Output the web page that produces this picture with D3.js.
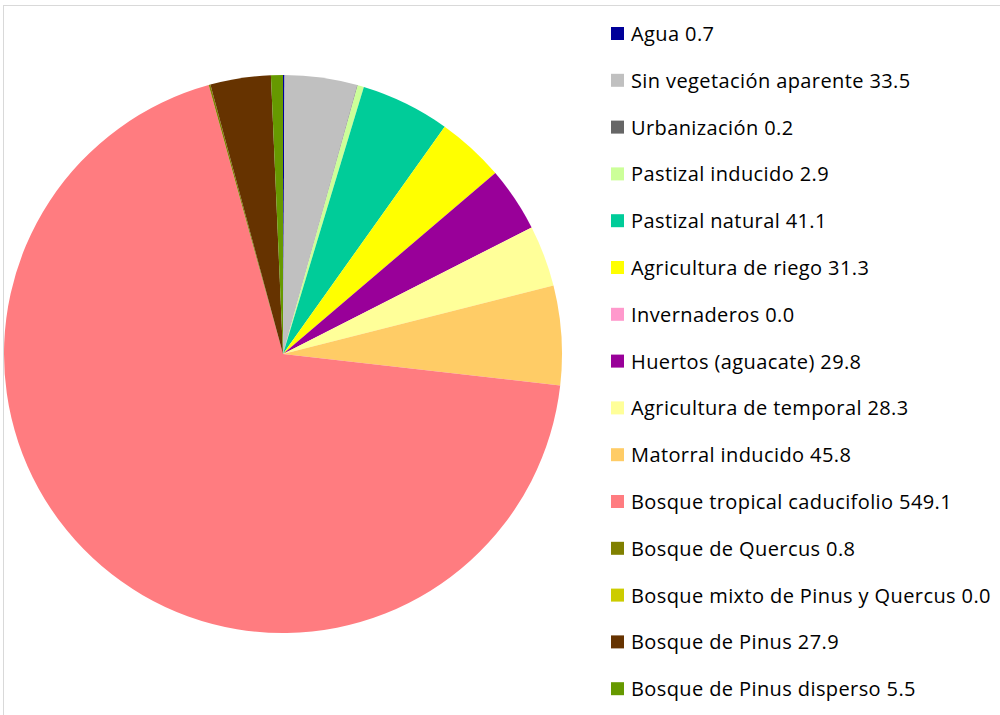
<!DOCTYPE html>
<html><head><meta charset="utf-8">
<script src="https://cdn.jsdelivr.net/npm/d3@7"></script>
<style>body{margin:0;background:#fff}svg{display:block}</style>
</head><body>
<script>
const categories = ["Agua","Sin vegetación aparente","Urbanización","Pastizal inducido","Pastizal natural","Agricultura de riego","Invernaderos","Huertos (aguacate)","Agricultura de temporal","Matorral inducido","Bosque tropical caducifolio","Bosque de Quercus","Bosque mixto de Pinus y Quercus","Bosque de Pinus","Bosque de Pinus disperso"];
const values = [0.7,33.5,0.2,2.9,41.1,31.3,0.0,29.8,28.3,45.8,549.1,0.8,0.0,27.9,5.5];
const labels = ["0.7","33.5","0.2","2.9","41.1","31.3","0.0","29.8","28.3","45.8","549.1","0.8","0.0","27.9","5.5"];
const colors = ["#000099","#C0C0C0","#666666","#CCFF99","#00CC99","#FFFF00","#FF99CC","#990099","#FFFF99","#FFCC66","#FF7C80","#808000","#CCCC00","#663300","#669900"];

const W=1000,H=715;
const svg=d3.select("body").append("svg").attr("width",W).attr("height",H);
svg.append("rect").attr("x",3.5).attr("y",5.5).attr("width",1000).attr("height",720).attr("fill","#fff").attr("stroke","#d9d9d9");

const cx=283, cy=354, r=279;
const data=categories.map((c,i)=>({name:c,value:values[i],label:labels[i],color:colors[i]}));
const pie=d3.pie().value(d=>d.value).sort(null);
const arc=d3.arc().innerRadius(0).outerRadius(r);
svg.append("g").attr("transform",`translate(${cx},${cy})`)
  .selectAll("path").data(pie(data)).join("path")
  .attr("d",arc).attr("fill",d=>d.data.color);

const y0=34, dy=46.8;
const lg=svg.append("g");
const row=lg.selectAll("g").data(data).join("g").attr("transform",(d,i)=>`translate(611,${y0+i*dy})`);
row.append("rect").attr("x",0).attr("y",-7).attr("width",13).attr("height",13).attr("fill",d=>d.color);
row.append("text").attr("x",20).attr("y",0).attr("dy","0.35em")
  .style("font-family","'Open Sans', sans-serif").style("font-size","20px").style("letter-spacing","0.4px").attr("fill","#000")
  .text(d=>d.name+" "+d.label);
</script>
</body></html>
